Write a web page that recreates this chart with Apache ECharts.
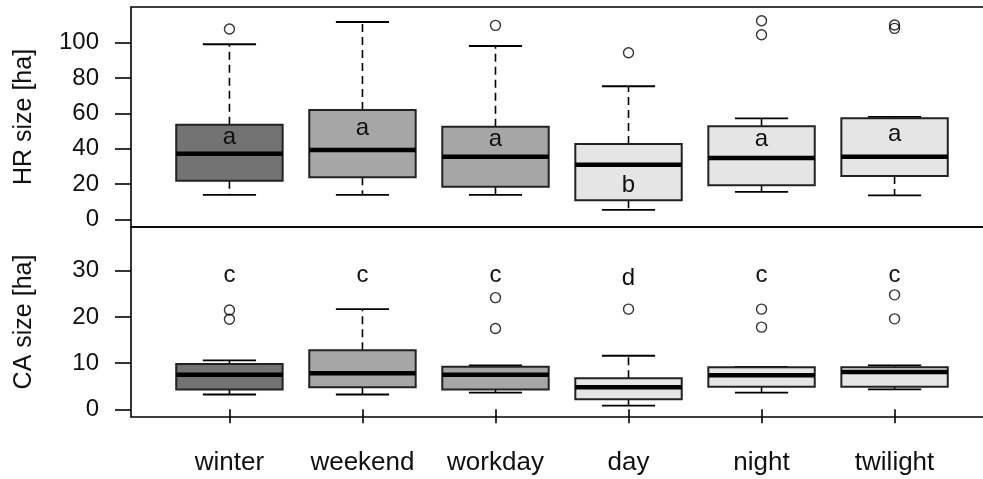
<!DOCTYPE html>
<html><head><meta charset="utf-8">
<script src="https://cdn.jsdelivr.net/npm/echarts@6/dist/echarts.min.js"></script>
<style>html,body{margin:0;padding:0;background:#fff}#c{width:983px;height:479px}</style>
</head><body><div id="c"></div>
<script>
const categories = ['winter', 'weekend', 'workday', 'day', 'night', 'twilight'];
const boxColors = ['#737373', '#A6A6A6', '#A6A6A6', '#E5E5E5', '#E5E5E5', '#E5E5E5'];

// HR size: [lower whisker, Q1, median, Q3, upper whisker]
const hrStats = [
  [13.8, 21.9, 37.2, 53.6, 99.2],
  [13.8, 23.8, 39.3, 61.9, 111.8],
  [13.8, 18.5, 35.5, 52.5, 98.2],
  [5.3, 10.8, 30.9, 42.7, 75.4],
  [15.5, 19.3, 34.7, 52.7, 57.2],
  [13.6, 24.5, 35.5, 57.2, 58.0]
];
const hrOutliers = [[107.8], [], [109.9], [94.4], [104.6, 112.5], [108.2, 110.1]];
const hrLetters = ['a', 'a', 'a', 'b', 'a', 'a'];
const hrLetterY = [46.2, 51.7, 45.1, 19.0, 45.1, 47.9];
const hrTicks = [0, 20, 40, 60, 80, 100];

// CA size
const caStats = [
  [3.2, 4.3, 7.5, 9.8, 10.6],
  [3.2, 4.8, 7.8, 12.8, 21.7],
  [3.6, 4.3, 7.5, 9.2, 9.5],
  [0.8, 2.2, 4.8, 6.7, 11.6],
  [3.6, 4.9, 7.4, 9.1, 9.2],
  [4.3, 4.9, 8.1, 9.1, 9.5]
];
const caOutliers = [[19.5, 21.5], [], [17.5, 24.2], [21.7], [17.8, 21.7], [19.6, 24.8]];
const caLetters = ['c', 'c', 'c', 'd', 'c', 'c'];
const caLetterY = [29.0, 29.0, 29.0, 28.3, 29.0, 29.0];
const caTicks = [0, 10, 20, 30];

const xPos = categories.map((_, i) => i + 1);
const FONT = "'Liberation Sans', Arial, sans-serif";

function boxData(stats) {
  return stats.map((s, i) => [i + 1].concat(s).concat([i]));
}
function outlierData(outs) {
  const d = [];
  outs.forEach((arr, i) => arr.forEach(v => d.push([i + 1, v])));
  return d;
}
function letterData(letters, ys) {
  return letters.map((l, i) => [i + 1, ys[i]]);
}

function renderBox(params, api) {
  const x = api.value(0);
  const lw = api.value(1), q1 = api.value(2), med = api.value(3), q3 = api.value(4), uw = api.value(5);
  const ci = api.value(6);
  const halfBox = api.size([0.8, 0])[0] / 2;
  const halfCap = api.size([0.4, 0])[0] / 2;
  const pLw = api.coord([x, lw]), pQ1 = api.coord([x, q1]), pMed = api.coord([x, med]);
  const pQ3 = api.coord([x, q3]), pUw = api.coord([x, uw]);
  const cx = pMed[0];
  const dash = { stroke: '#000', lineWidth: 1.6, lineDash: [8, 5] };
  const solid = { stroke: '#000', lineWidth: 1.8 };
  return {
    type: 'group',
    children: [
      { type: 'line', shape: { x1: cx, y1: pQ3[1], x2: cx, y2: pUw[1] }, style: dash },
      { type: 'line', shape: { x1: cx, y1: pQ1[1], x2: cx, y2: pLw[1] }, style: dash },
      { type: 'line', shape: { x1: cx - halfCap, y1: pUw[1], x2: cx + halfCap, y2: pUw[1] }, style: solid },
      { type: 'line', shape: { x1: cx - halfCap, y1: pLw[1], x2: cx + halfCap, y2: pLw[1] }, style: solid },
      { type: 'rect', shape: { x: cx - halfBox, y: pQ3[1], width: halfBox * 2, height: pQ1[1] - pQ3[1] },
        style: { fill: boxColors[ci], stroke: '#222', lineWidth: 2 } },
      { type: 'line', shape: { x1: cx - halfBox, y1: pMed[1], x2: cx + halfBox, y2: pMed[1] },
        style: { stroke: '#000', lineWidth: 4.5 } }
    ]
  };
}

const letterDataText = {};
function renderLetter(params, api) {
  const p = api.coord([api.value(0), api.value(1)]);
  return {
    type: 'text',
    x: p[0], y: p[1],
    style: { text: letterDataText[params.seriesIndex][params.dataIndex], font: '24px ' + FONT,
      fill: '#111', align: 'center', verticalAlign: 'middle' }
  };
}

const chart = echarts.init(document.getElementById('c'));
const axisText = { color: '#111', fontSize: 24, fontFamily: FONT };

function yAxisDef(grid, min, max, ticks, name) {
  return {
    type: 'value', gridIndex: grid, min: min, max: max,
    axisLine: { show: false }, splitLine: { show: false },
    axisTick: { show: true, length: 16, customValues: ticks, lineStyle: { color: '#000', width: 1.6 } },
    axisLabel: Object.assign({ customValues: ticks, margin: 32 }, axisText),
    name: name, nameLocation: 'middle', nameGap: 94,
    nameTextStyle: { color: '#111', fontSize: 25, fontFamily: FONT }
  };
}

const series = [
  { type: 'custom', xAxisIndex: 0, yAxisIndex: 0, renderItem: renderBox, data: boxData(hrStats), silent: true, z: 2 },
  { type: 'scatter', xAxisIndex: 0, yAxisIndex: 0, data: outlierData(hrOutliers), symbol: 'circle', symbolSize: 10,
    itemStyle: { color: 'rgba(255,255,255,0)', borderColor: '#000', borderWidth: 1.4 }, silent: true, z: 3 },
  { type: 'custom', xAxisIndex: 0, yAxisIndex: 0, renderItem: renderLetter, data: letterData(hrLetters, hrLetterY), silent: true, z: 4 },
  { type: 'custom', xAxisIndex: 1, yAxisIndex: 1, renderItem: renderBox, data: boxData(caStats), silent: true, z: 2 },
  { type: 'scatter', xAxisIndex: 1, yAxisIndex: 1, data: outlierData(caOutliers), symbol: 'circle', symbolSize: 10,
    itemStyle: { color: 'rgba(255,255,255,0)', borderColor: '#000', borderWidth: 1.4 }, silent: true, z: 3 },
  { type: 'custom', xAxisIndex: 1, yAxisIndex: 1, renderItem: renderLetter, data: letterData(caLetters, caLetterY), silent: true, z: 4 }
];
letterDataText[2] = hrLetters;
letterDataText[5] = caLetters;

chart.setOption({
  animation: false,
  backgroundColor: '#fff',
  grid: [
    { left: 131, top: 7, width: 862, height: 220, show: true, borderColor: '#000', borderWidth: 1.6,
      backgroundColor: 'transparent', outerBoundsMode: 'none', containLabel: false },
    { left: 131, top: 227, width: 862, height: 190, show: true, borderColor: '#000', borderWidth: 1.6,
      backgroundColor: 'transparent', outerBoundsMode: 'none', containLabel: false }
  ],
  xAxis: [
    { type: 'value', gridIndex: 0, min: 0.26, max: 6.74, axisLine: { show: false }, axisTick: { show: false },
      axisLabel: { show: false }, splitLine: { show: false } },
    { type: 'value', gridIndex: 1, min: 0.26, max: 6.74, axisLine: { show: false }, splitLine: { show: false },
      axisTick: { show: true, length: 14, customValues: xPos, lineStyle: { color: '#000', width: 1.6 } },
      axisLabel: Object.assign({ customValues: xPos, margin: 33, formatter: v => categories[Math.round(v) - 1] || '' },
        axisText, { fontSize: 26 }) }
  ],
  yAxis: [
    yAxisDef(0, -4.36, 120.3, hrTicks, 'HR size [ha]'),
    yAxisDef(1, -1.67, 39.5, caTicks, 'CA size [ha]')
  ],
  series: series
});
</script>
</body></html>
